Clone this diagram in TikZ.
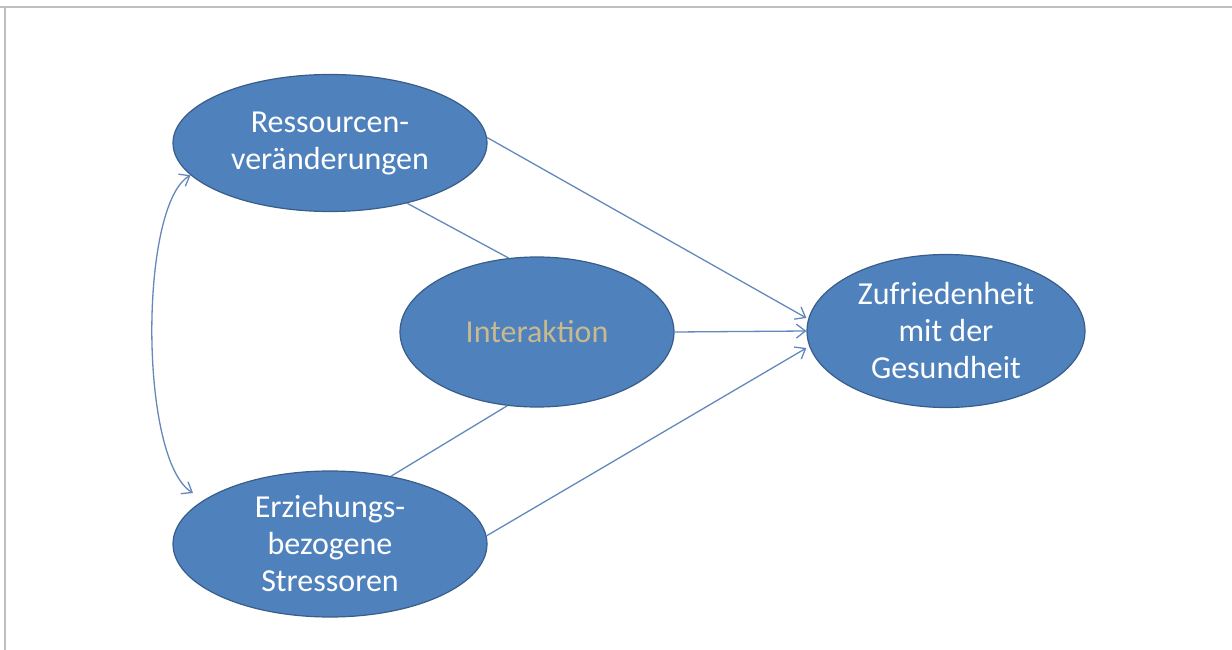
\documentclass[tikz,border=0pt]{standalone}
\usepackage{fontspec}
\setmainfont{Carlito}
\usetikzlibrary{arrows.meta,shapes.geometric}
\definecolor{ovalfill}{HTML}{4F81BD}
\definecolor{ovaledge}{HTML}{385D8A}
\definecolor{linkcol}{HTML}{6389BC}
\definecolor{tanfont}{HTML}{C9B98E}
\definecolor{framegray}{HTML}{BFBFBF}
\begin{document}
\begin{tikzpicture}[x=1pt,y=-1pt,
  oval/.style={ellipse, fill=ovalfill, draw=ovaledge, line width=1.2pt,
    inner sep=0pt, text=white, align=center,
    font=\fontsize{32}{37}\selectfont},
  link/.style={draw=linkcol, line width=1.3pt},
  tip/.tip={Straight Barb[length=9pt,width=14pt,line width=1.3pt]},
  arr/.style={link, -tip},
  darr/.style={link, tip-tip}]
\useasboundingbox (0,0) rectangle (1232,650);
% frame lines
\draw[framegray, line width=2pt] (0,7) -- (1232,7);
\draw[framegray, line width=2pt] (5,7) -- (5,650);
% ovals
\node[oval, minimum width=314pt, minimum height=137pt] (res) at (330,143) {Ressourcen-\\veränderungen};
\node[oval, minimum width=274pt, minimum height=150pt, text=tanfont] (int) at (537,332) {Interaktion};
\node[oval, minimum width=278pt, minimum height=153pt] (zuf) at (946,331) {Zufriedenheit\\mit der\\Gesundheit};
\node[oval, minimum width=314pt, minimum height=146pt] (erz) at (330,544) {Erziehungs-\\bezogene\\Stressoren};
% connectors
\coordinate (z1) at (807,318);
\coordinate (z3) at (807,348);
\coordinate (loopend) at (193,493);
\draw[arr] (res.2) -- (zuf.west |- z1);
\draw[arr] (int.east) -- (zuf.west);
\draw[arr] (erz.3) -- (zuf.west |- z3);
\draw[link] (res.-38) -- (int.111);
\draw[link] (erz.48) -- (int.-112);
\draw[darr] (res.-167) .. controls (139,205) and (139,460) .. (loopend);
\end{tikzpicture}
\end{document}
